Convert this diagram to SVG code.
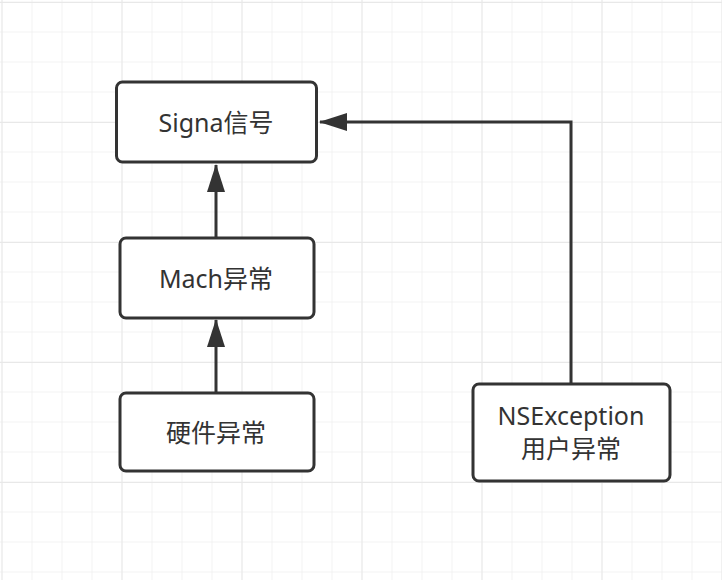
<svg xmlns="http://www.w3.org/2000/svg" width="722" height="580" viewBox="0 0 722 580">
<defs>
<pattern id="minor" x="1.5" y="1.5" width="30" height="30" patternUnits="userSpaceOnUse">
<path d="M0 0H30M0 0V30" fill="none" stroke="#f0f0f0" stroke-width="1.5"/>
</pattern>
<pattern id="major" x="1.5" y="2" width="120" height="120" patternUnits="userSpaceOnUse">
<path d="M0 0H120M0 0V120" fill="none" stroke="#e8e8e8" stroke-width="2"/>
</pattern>
<marker id="arr" viewBox="0 0 28 18" refX="27" refY="9" markerWidth="28" markerHeight="18" markerUnits="userSpaceOnUse" orient="auto">
<path d="M0 0L28 9L0 18Z" fill="#333"/>
</marker>
</defs>
<style>
.box{fill:#fff;stroke:#333;stroke-width:3}
.t{font-family:"Noto Sans","Noto Sans CJK SC",sans-serif;font-size:25px;fill:#333;text-anchor:middle}
.c{fill:none;stroke:#333;stroke-width:3}
</style>
<rect width="722" height="580" fill="#fff"/>
<rect width="722" height="580" fill="url(#minor)"/>
<rect width="722" height="580" fill="url(#major)"/>
<g id="connectors">
<path class="c" d="M216 237V165" marker-end="url(#arr)"/>
<path class="c" d="M216 392V320" marker-end="url(#arr)"/>
<path class="c" d="M571 383V122H320" marker-end="url(#arr)"/>
</g>
<g id="signal">
<rect class="box" x="116.5" y="82" width="200" height="80" rx="6"/>
<text class="t" x="216" y="132">Signa信号</text>
</g>
<g id="mach">
<rect class="box" x="120" y="238" width="194" height="80" rx="6"/>
<text class="t" x="216" y="288">Mach异常</text>
</g>
<g id="hardware">
<rect class="box" x="120" y="393" width="194" height="78" rx="6"/>
<text class="t" x="216" y="442">硬件异常</text>
</g>
<g id="nsexception">
<rect class="box" x="473" y="384" width="197" height="97" rx="6"/>
<text class="t" x="571" y="425">NSException</text>
<text class="t" x="571" y="458">用户异常</text>
</g>
</svg>
